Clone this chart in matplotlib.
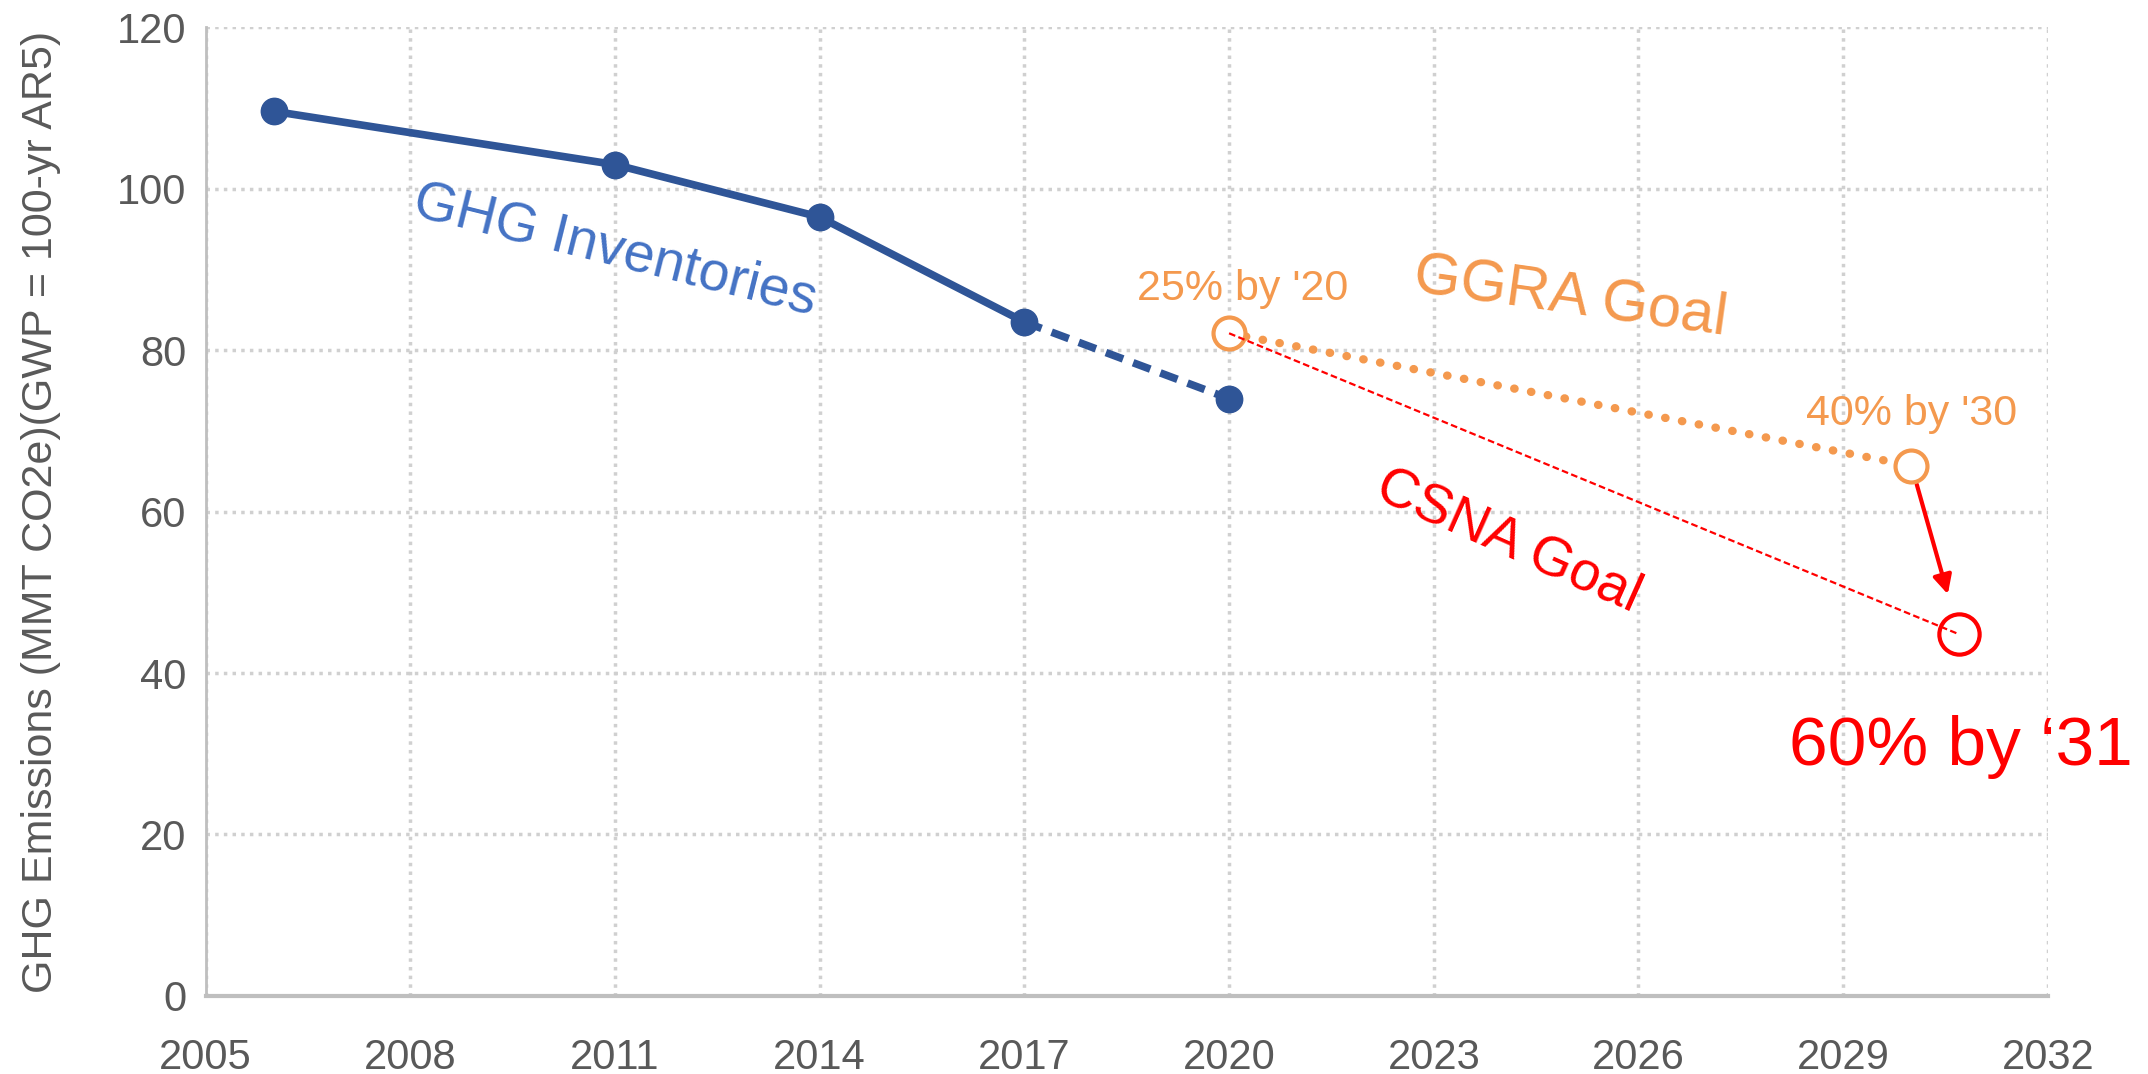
import matplotlib
matplotlib.use("Agg")
import matplotlib.pyplot as plt

# GHG inventories (solid to 2017, dashed estimate to 2020)
inv_years = [2006, 2011, 2014, 2017]
inv_values = [109.6, 103.0, 96.5, 83.5]
est_years = [2017, 2020]
est_values = [83.5, 74.0]

# GGRA goal
ggra_years = [2020, 2030]
ggra_values = [82.1, 65.7]

# CSNA goal
csna_years = [2020, 2030.7]
csna_values = [82.1, 44.8]

x_ticks = list(range(2005, 2033, 3))
y_ticks = [0, 20, 40, 60, 80, 100, 120]

BLUE = "#2F5597"
ORANGE = "#F4994E"
RED = "#FF0000"
GRAY = "#595959"

fig = plt.figure(figsize=(21.48, 10.74), dpi=100)
ax = fig.add_axes([0.0957, 0.0727, 0.8577, 0.9018])

ax.plot(inv_years, inv_values, color=BLUE, lw=5.5, marker="o", ms=19, zorder=4)
ax.plot(est_years, est_values, color=BLUE, lw=5.5, ls=(0, (2.4, 1.4)), marker="o",
        ms=19, markevery=[1], zorder=4)

ax.plot(ggra_years, ggra_values, color=ORANGE, lw=6, ls=(0, (0.05, 2.0)),
        dash_capstyle="round", zorder=3)
ax.plot(ggra_years, ggra_values, ls="none", marker="o", ms=23, mfc="white",
        mec=ORANGE, mew=3, zorder=5)

ax.plot(csna_years, csna_values, color=RED, lw=1.6, ls=(0, (3, 1.5)), zorder=6)
ax.plot(csna_years[-1:], csna_values[-1:], ls="none", marker="o", ms=29,
        mfc="white", mec=RED, mew=3, zorder=5)

ax.annotate("", xy=(csna_years[-1], csna_values[-1]),
            xytext=(ggra_years[-1], ggra_values[-1]),
            arrowprops=dict(arrowstyle="-|>", color=RED, lw=3,
                            mutation_scale=28, shrinkA=14, shrinkB=30))

sans = ["Liberation Sans", "DejaVu Sans"]

ax.text(2011.0, 92.3, "GHG Inventories", color="#4472C4", fontsize=40,
        family=sans, rotation=-14, ha="center", va="center")
ax.text(2025.0, 86.6, "GGRA Goal", color=ORANGE, fontsize=43,
        family=sans, rotation=-8, ha="center", va="center")
ax.text(2024.1, 56.3, "CSNA Goal", color=RED, fontsize=40,
        family=sans, rotation=-24, ha="center", va="center")
ax.text(2020.2, 87.6, "25% by '20", color=ORANGE, fontsize=31,
        family=sans, ha="center", va="center")
ax.text(2030.0, 72.1, "40% by '30", color=ORANGE, fontsize=31,
        family=sans, ha="center", va="center")
ax.text(2028.2, 30.9, "60% by \u201831", color=RED, fontsize=50,
        family=sans, ha="left", va="center", clip_on=False)

ax.set_xlim(2005, 2032)
ax.set_ylim(0, 120)
ax.set_xticks(x_ticks)
ax.set_yticks(y_ticks)
ax.tick_params(length=0, labelsize=30, labelcolor=GRAY)
ax.tick_params(axis="x", pad=30)
ax.tick_params(axis="y", pad=14)
for lab in ax.get_xticklabels() + ax.get_yticklabels():
    lab.set_family(sans)

ax.set_ylabel("GHG Emissions (MMT CO2e)(GWP = 100-yr AR5)", fontsize=31,
              color=GRAY, family=sans, labelpad=40)

ax.grid(True, color="#D0D0D0", ls=(0, (1, 1.5)), lw=2.5)
ax.set_axisbelow(True)
ax.spines["top"].set_visible(False)
ax.spines["right"].set_visible(False)
ax.spines["left"].set_color("#BFBFBF")
ax.spines["left"].set_linewidth(2)
ax.spines["bottom"].set_color("#BFBFBF")
ax.spines["bottom"].set_linewidth(3)

fig.savefig("out.png", dpi=100, facecolor="white")
